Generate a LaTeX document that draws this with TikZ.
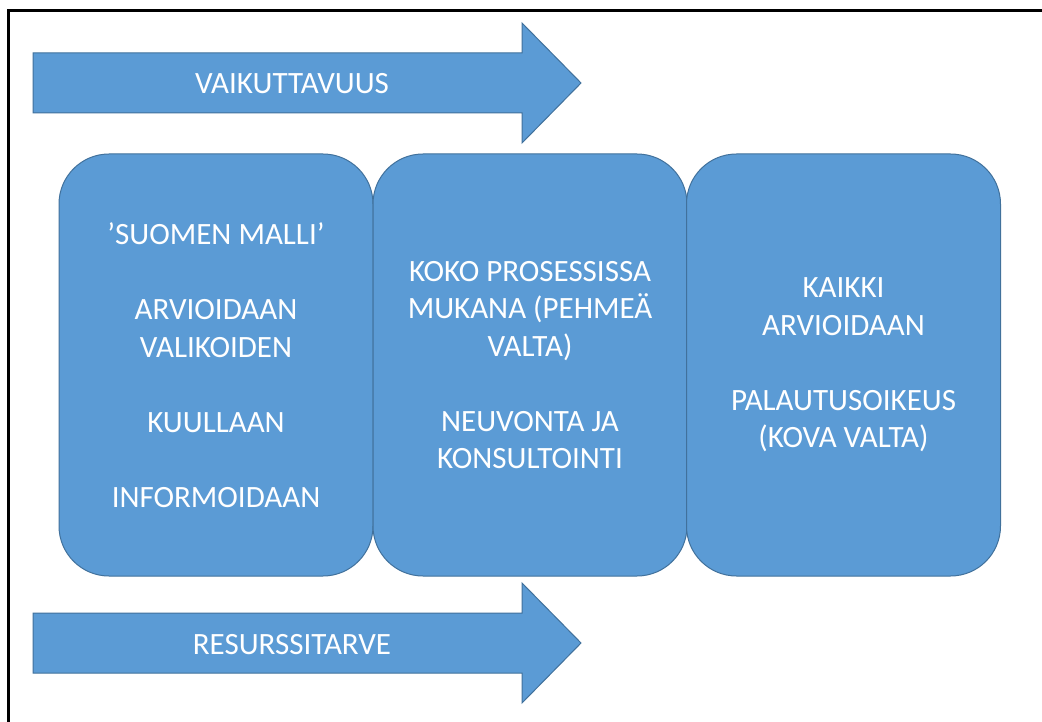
\documentclass[tikz,border=0pt]{standalone}
\usepackage{fontspec}
\setmainfont{Carlito}
\definecolor{boxfill}{HTML}{5B9BD5}
\definecolor{boxline}{HTML}{41719C}
\begin{document}
\begin{tikzpicture}[x=1pt,y=-1pt,
  shapestyle/.style={fill=boxfill,draw=boxline,line width=1pt},
  panel/.style={shapestyle,rounded corners=50pt,minimum width=314pt,minimum height=422pt,inner sep=0pt,align=center,text=white,font=\fontsize{31}{37.5}\selectfont},
  arrowlabel/.style={text=white,font=\fontsize{31}{37.5}\selectfont,inner sep=0pt}]
\useasboundingbox (0,0) rectangle (1042,722);
\fill[white] (0,0) rectangle (1042,722);
% frame (top and left only)
\draw[line width=2.6pt] (8.5,722) -- (8.5,10.5) -- (1042,10.5);
% top arrow
\draw[shapestyle] (33,53) -- (522,53) -- (522,23) -- (581,83) -- (522,143) -- (522,113) -- (33,113) -- cycle;
\node[arrowlabel] (vaik) at (292,84) {VAIKUTTAVUUS};
% panels
\node[panel] (p1) at (216,365) {’SUOMEN MALLI’\\[37.5pt]ARVIOIDAAN\\VALIKOIDEN\\[37.5pt]KUULLAAN\\[37.5pt]INFORMOIDAAN};
\node[panel] (p2) at (530,365) {KOKO PROSESSISSA\\MUKANA (PEHMEÄ\\VALTA)\\[37.5pt]NEUVONTA JA\\KONSULTOINTI};
\node[panel] (p3) at (843.5,365) {KAIKKI\\ARVIOIDAAN\\[37.5pt]PALAUTUSOIKEUS\\(KOVA VALTA)};
% bottom arrow
\draw[shapestyle] (33,613) -- (522,613) -- (522,583) -- (581,643) -- (522,703) -- (522,673) -- (33,673) -- cycle;
\node[arrowlabel] (res) at (292,645) {RESURSSITARVE};
\end{tikzpicture}
\end{document}
